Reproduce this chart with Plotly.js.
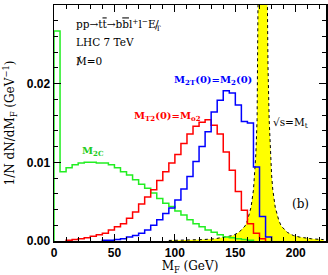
<!DOCTYPE html>
<html><head><meta charset="utf-8">
<script src="https://cdn.plot.ly/plotly-3.0.1.min.js"></script>
<style>html,body{margin:0;padding:0;background:#fff}#chart{width:328px;height:275px}</style>
</head><body><div id="chart"></div>
<script>
// Histogram bin width (GeV)
const binWidth = 5;
// M_2C (green), bins starting at 0 GeV
const greenStart = 0;
const greenVals = [0.0267, 0.0088, 0.0093, 0.0097, 0.0099, 0.0100, 0.0100, 0.0099, 0.0099, 0.0097,
  0.0093, 0.0088, 0.0084, 0.0078, 0.0072, 0.0067, 0.0061, 0.0054, 0.0048, 0.0044,
  0.0038, 0.0033, 0.0027, 0.0022, 0.0018, 0.0014, 0.0011, 0.0008, 0.0005, 0.0004,
  0.0003, 0.0002, 0.0001];
// M_T2(0)=M_o2 (red), bins starting at 10 GeV
const redStart = 10;
const redVals = [0.0001, 0.0002, 0.0003, 0.0004, 0.0006, 0.0008, 0.0010, 0.0014, 0.0018, 0.0022,
  0.0029, 0.0037, 0.0047, 0.0056, 0.0065, 0.0077, 0.0088, 0.0099, 0.0110, 0.0124,
  0.0136, 0.0146, 0.0151, 0.0154, 0.0147, 0.0136, 0.0113, 0.0090, 0.0063, 0.0039,
  0.0022, 0.0010, 0.0003];
// M_2T(0)=M_2(0) (blue), bins starting at 40 GeV
const blueStart = 40;
const blueVals = [0.0001, 0.0001, 0.0002, 0.0003, 0.0005, 0.0007, 0.0010, 0.0014, 0.0020, 0.0027,
  0.0035, 0.0042, 0.0052, 0.0066, 0.0082, 0.0101, 0.0120, 0.0139, 0.0164, 0.0179,
  0.0191, 0.0188, 0.0173, 0.0152, 0.0150, 0.0094, 0.0031, 0.0005];
// sqrt(s)=M_t curve (yellow)
const peakX = [95, 110, 123, 133, 143, 148, 153, 158, 160, 163, 165, 166, 167, 168, 169, 170, 171, 172, 173,
  174, 175, 176, 177, 178, 179, 180, 181, 183, 186, 188, 193, 198, 203, 213, 223];
const peakY = [0.00007, 0.0001, 0.00018, 0.00028, 0.0005, 0.0007, 0.0011, 0.0019, 0.0026, 0.0043, 0.0065, 0.0084, 0.0111, 0.0154, 0.0223, 0.0345, 0.0563, 0.0907, 0.114,
  0.0907, 0.0563, 0.0345, 0.0223, 0.0154, 0.0111, 0.0084, 0.0065, 0.0043, 0.0026, 0.0019, 0.0011, 0.0007, 0.0005, 0.00028, 0.00018];
const xTicks = [0, 50, 100, 150, 200];
const yTicks = [0, 0.01, 0.02, 0.03];

function stepTrace(start, vals, color) {
  const x = [start], y = [0];
  vals.forEach((v, i) => { x.push(start + i * binWidth); y.push(v); });
  x.push(start + vals.length * binWidth); y.push(0);
  return {type: 'scatter', mode: 'lines', x: x, y: y,
    line: {shape: 'hv', color: color, width: 1.5}, hoverinfo: 'skip'};
}

const traces = [
  {type: 'scatter', mode: 'lines', x: peakX, y: peakY, fill: 'tozeroy', fillcolor: '#ffff00',
   line: {color: '#000', width: 1, dash: 'dot'}, hoverinfo: 'skip'},
  stepTrace(greenStart, greenVals, '#22ee22'),
  stepTrace(redStart, redVals, '#ff0000'),
  stepTrace(blueStart, blueVals, '#0000ff')
];

const L = 54, R = 326, T = 5, B = 241;
function px(xp) { return (xp - L) / (R - L); }
function py(yp) { return (B - yp) / (B - T); }
const serif = 'DejaVu Serif';
function ann(text, x, y, color, size, anchor, bold) {
  return {text: text, xref: 'paper', yref: 'paper', x: px(x), y: py(y), xanchor: anchor || 'center',
    yanchor: 'middle', showarrow: false,
    font: {family: serif, size: size, color: color, weight: bold ? 'bold' : 'normal'}};
}
const ov = s => '<span style="text-decoration:overline">' + s + '</span>';

const layout = {
  width: 328, height: 275,
  margin: {l: L, r: 328 - R, t: T, b: 275 - B},
  paper_bgcolor: '#fff', plot_bgcolor: '#fff', showlegend: false,
  font: {family: serif, size: 12, color: '#000'},
  xaxis: {range: [0, 225], tickmode: 'array', tickvals: xTicks, ticktext: xTicks.map(String),
    ticks: 'inside', ticklen: 7, tickwidth: 1.2, tickcolor: '#000', mirror: 'ticks',
    showline: true, linewidth: 1.5, linecolor: '#000', showgrid: false, zeroline: false,
    tickfont: {family: 'Liberation Sans', size: 12, weight: 'bold', color: '#000'},
    minor: {tickmode: 'linear', tick0: 0, dtick: 10, ticks: 'inside', ticklen: 4, tickwidth: 1, tickcolor: '#000', showgrid: false},
    title: {text: 'M<sub>F</sub> (GeV)', font: {family: serif, size: 12}, standoff: 3}},
  yaxis: {range: [0, 0.03], tickmode: 'array', tickvals: yTicks, ticktext: yTicks.map(v => v.toFixed(2)),
    ticks: 'inside', ticklen: 7, tickwidth: 1.2, tickcolor: '#000', mirror: 'ticks',
    showline: true, linewidth: 1.5, linecolor: '#000', showgrid: false, zeroline: false,
    tickfont: {family: 'Liberation Sans', size: 12, weight: 'bold', color: '#000'},
    minor: {tickmode: 'linear', tick0: 0, dtick: 0.002, ticks: 'inside', ticklen: 4, tickwidth: 1, tickcolor: '#000', showgrid: false},
    title: {text: '1/N dN/dM<sub>F</sub> (GeV<sup>−1</sup>)', font: {family: serif, size: 12}, standoff: 9}},
  annotations: [
    ann('pp→t' + ov('t') + '→b' + ov('b') + 'l<sup>+</sup>l<sup>−</sup>E<sub>T</sub>', 74, 25, '#000', 10.5, 'left'),
    ann('/', 157, 24, '#000', 11, 'center'),
    ann('LHC 7 TeV', 74, 42, '#000', 10.5, 'left'),
    ann('M=0', 74, 61, '#000', 10.5, 'left'),
    ann('/', 79, 60, '#000', 11, 'center'),
    ann('M<sub>2C</sub>', 93, 151, '#22cc22', 10, 'center', true),
    ann('M<sub>T2</sub>(0)=M<sub>o2</sub>', 167, 117, '#ff0000', 10, 'center', true),
    ann('M<sub>2T</sub>(0)=M<sub>2</sub>(0)', 213, 80, '#0000ff', 10, 'center', true),
    ann('√s=M<sub>t</sub>', 290, 123, '#000', 10.5, 'center'),
    ann('(b)', 300, 204, '#000', 12, 'center')
  ]
};
Plotly.newPlot('chart', traces, layout, {staticPlot: true, displayModeBar: false});
</script></body></html>
